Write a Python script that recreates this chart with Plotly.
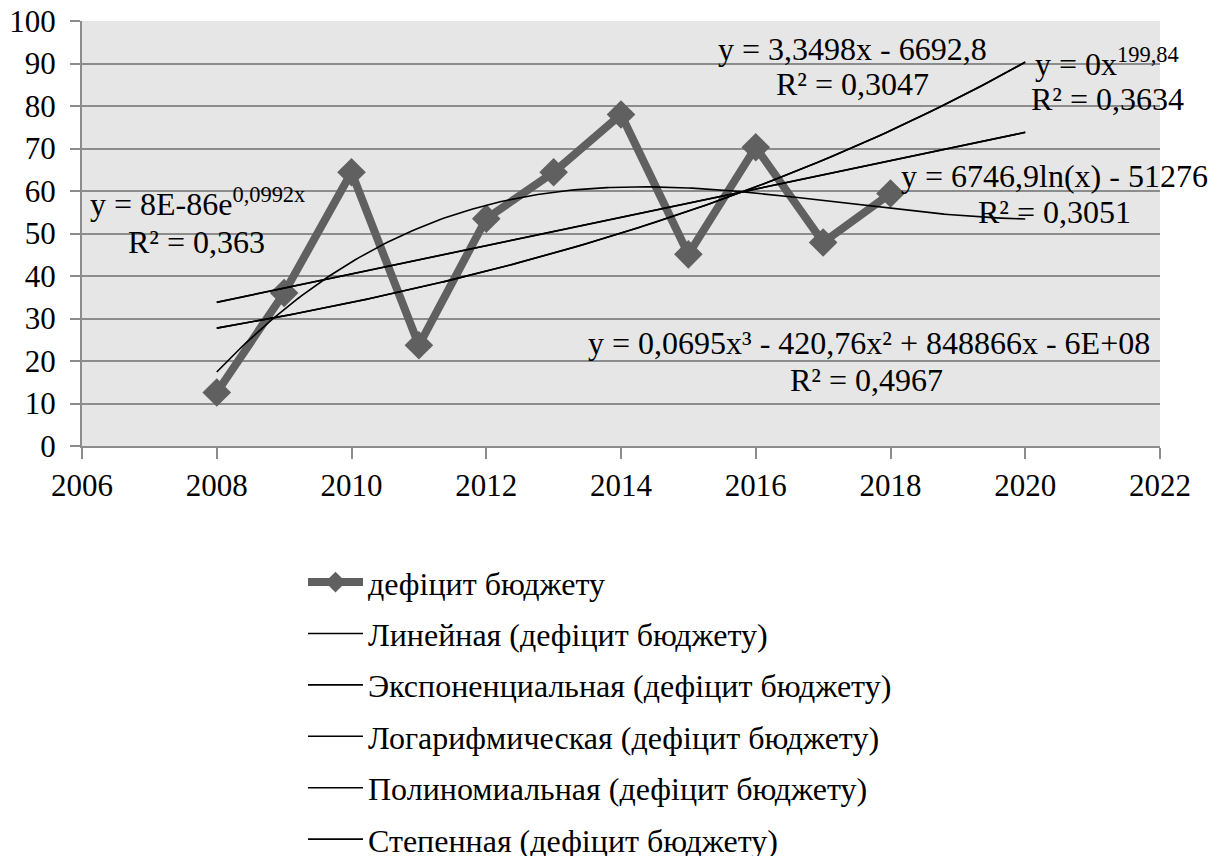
import numpy as np
import plotly.graph_objects as go

years = [2008, 2009, 2010, 2011, 2012, 2013, 2014, 2015, 2016, 2017, 2018]
deficit = [12.6, 36.0, 64.4, 23.7, 53.5, 64.4, 78.0, 45.1, 70.3, 47.9, 59.4]
series_name = "дефіцит бюджету"
trend_names = [
    "Линейная (дефіцит бюджету)",
    "Экспоненциальная (дефіцит бюджету)",
    "Логарифмическая (дефіцит бюджету)",
    "Полиномиальная (дефіцит бюджету)",
    "Степенная (дефіцит бюджету)",
]
forecast_end = 2020
y_ticks = list(range(0, 101, 10))
x_ticks = list(range(2006, 2023, 2))

# trendline labels: (equation, R²)
eq_texts = [
    ("y = 3,3498x - 6692,8", "R² = 0,3047"),
    ("y = 0x<sup>199,84</sup>", "R² = 0,3634"),
    ("y = 6746,9ln(x) - 51276", "R² = 0,3051"),
    ("y = 8E-86e<sup>0,0992x</sup>", "R² = 0,363"),
    ("y = 0,0695x³ - 420,76x² + 848866x - 6E+08", "R² = 0,4967"),
]
# label anchor positions in data units: (x1, y1, x2, y2)
eq_pos = [
    (2017.43, 93.5, 2017.44, 85.2),
    (2021.21, 90.4, 2021.22, 81.7),
    (2020.44, 63.6, 2020.44, 55.1),
    (2007.71, 57.4, 2007.70, 47.9),
    (2017.68, 24.3, 2017.65, 15.6),
]

FONT = "Liberation Serif"
FS_TICK = 31
FS_TXT = 32
GRID = "#8c8c8c"

x = np.array(years, dtype=float)
y = np.array(deficit, dtype=float)
xt = np.linspace(years[0], forecast_end, 200)

# Trendlines fitted from the data (as Excel does)
lin = np.polyfit(x, y, 1)
y_lin = np.polyval(lin, xt)
ex = np.polyfit(x, np.log(y), 1)
y_exp = np.exp(np.polyval(ex, xt))
lg = np.polyfit(np.log(x), y, 1)
y_log = np.polyval(lg, np.log(xt))
pc = np.polyfit(x - 2013, y, 3)
y_poly = np.polyval(pc, xt - 2013)
pw = np.polyfit(np.log(x), np.log(y), 1)
y_pow = np.exp(np.polyval(pw, np.log(xt)))

fig = go.Figure()
fig.add_trace(go.Scatter(
    x=years, y=deficit, mode="lines+markers", name=series_name,
    line=dict(color="#606060", width=8),
    marker=dict(symbol="diamond", size=22, color="#606060"),
    legendgroup="g0",
))
for i, (nm, yy) in enumerate(zip(trend_names, [y_lin, y_exp, y_log, y_poly, y_pow])):
    fig.add_trace(go.Scatter(
        x=xt, y=yy, mode="lines", name=nm,
        line=dict(color="black", width=1.6),
        legendgroup=f"g{i+1}",
    ))

for (t1, t2), (x1, y1, x2, y2) in zip(eq_texts, eq_pos):
    for tx, ax_, ay_ in ((t1, x1, y1), (t2, x2, y2)):
        fig.add_annotation(x=ax_, y=ay_, text=tx, showarrow=False,
                           font=dict(family=FONT, size=FS_TXT, color="black"),
                           align="center", xanchor="center", yanchor="middle")

fig.update_layout(
    width=1220, height=856,
    margin=dict(l=74, r=68, t=13, b=418, autoexpand=False),
    paper_bgcolor="white", plot_bgcolor="#e6e6e6",
    font=dict(family=FONT, size=FS_TICK, color="black"),
    showlegend=True,
    legend=dict(orientation="v", x=0.205, xanchor="left", y=-0.256, yanchor="top",
                font=dict(family=FONT, size=FS_TXT), tracegroupgap=6.8,
                bgcolor="rgba(0,0,0,0)", itemwidth=55),
)
fig.update_xaxes(range=[2006, 2022], tickvals=x_ticks, ticks="outside", ticklen=11,
                 tickcolor=GRID, tickwidth=2, showgrid=False, zeroline=False,
                 showline=True, linecolor=GRID, linewidth=2, automargin=False,
                 ticklabeloverflow="allow",
                 tickfont=dict(family=FONT, size=FS_TICK))
fig.update_yaxes(range=[0, 100], tickvals=y_ticks, ticks="outside", ticklen=10,
                 tickcolor=GRID, tickwidth=2, showgrid=True, gridcolor=GRID, gridwidth=2,
                 zeroline=False, showline=True, linecolor=GRID, linewidth=2, automargin=False,
                 ticklabeloverflow="allow",
                 tickfont=dict(family=FONT, size=FS_TICK), ticklabelstandoff=8)

fig.write_html("out.html")
